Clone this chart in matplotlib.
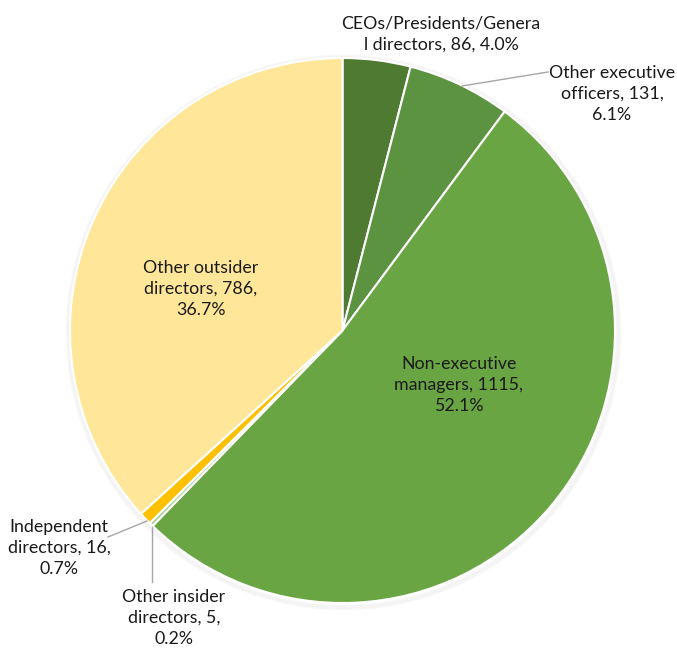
import matplotlib
matplotlib.use("Agg")
import matplotlib.pyplot as plt
from matplotlib.patches import Circle

categories = ["CEOs/Presidents/General directors", "Other executive officers",
              "Non-executive managers", "Other insider directors",
              "Independent directors", "Other outsider directors"]
counts = [86, 131, 1115, 5, 16, 786]
colors = ["#4e7a32", "#5b9340", "#6aa544", "#a9d08e", "#ffc000", "#ffe699"]

W, H = 677, 651
CX, CY, R = 342.5, H - 330.5, 272.5

fig = plt.figure(figsize=(W / 100, H / 100), dpi=100)
ax = fig.add_axes([0, 0, 1, 1])

# faint drop shadow under the pie
for i in range(6):
    ax.add_patch(Circle((CX + 1, CY - 2), R + 0.5 + i * 0.8, facecolor="none",
                        edgecolor="#000000", alpha=0.015, lw=1.6, zorder=0))

wedges, _ = ax.pie(counts, colors=colors, startangle=90, counterclock=False,
                   center=(CX, CY), radius=R, frame=True,
                   wedgeprops=dict(edgecolor="white", linewidth=1.5))
ax.set_xlim(0, W)
ax.set_ylim(0, H)
ax.set_aspect("equal")
ax.axis("off")

total = sum(counts)
pct = [c / total * 100 for c in counts]

FONT = dict(family="Lato", fontsize=12.8, color="#1a1a1a", ha="center", va="center",
            linespacing=1.42)


def label(x, y, lines):
    ax.text(x, H - y, "\n".join(lines), **FONT)


label(441, 34, ["CEOs/Presidents/Genera",
                f"l directors, {counts[0]}, {pct[0]:.1f}%"])
label(612, 94, ["Other executive", f"officers, {counts[1]},", f"{pct[1]:.1f}%"])
label(459, 385, ["Non-executive", f"managers, {counts[2]},", f"{pct[2]:.1f}%"])
label(201, 289, ["Other outsider", f"directors, {counts[5]},", f"{pct[5]:.1f}%"])
label(59, 548, ["Independent", f"directors, {counts[4]},", f"{pct[4]:.1f}%"])
label(174, 618, ["Other insider", f"directors, {counts[3]},", f"{pct[3]:.1f}%"])

# leader lines
ax.plot([462, 548], [H - 86, H - 72], color="#a6a6a6", lw=1)
ax.plot([147, 108], [H - 521, H - 537], color="#a6a6a6", lw=1)
ax.plot([152, 152], [H - 527, H - 582], color="#a6a6a6", lw=1)

fig.savefig("out.png", dpi=100, facecolor="white")
